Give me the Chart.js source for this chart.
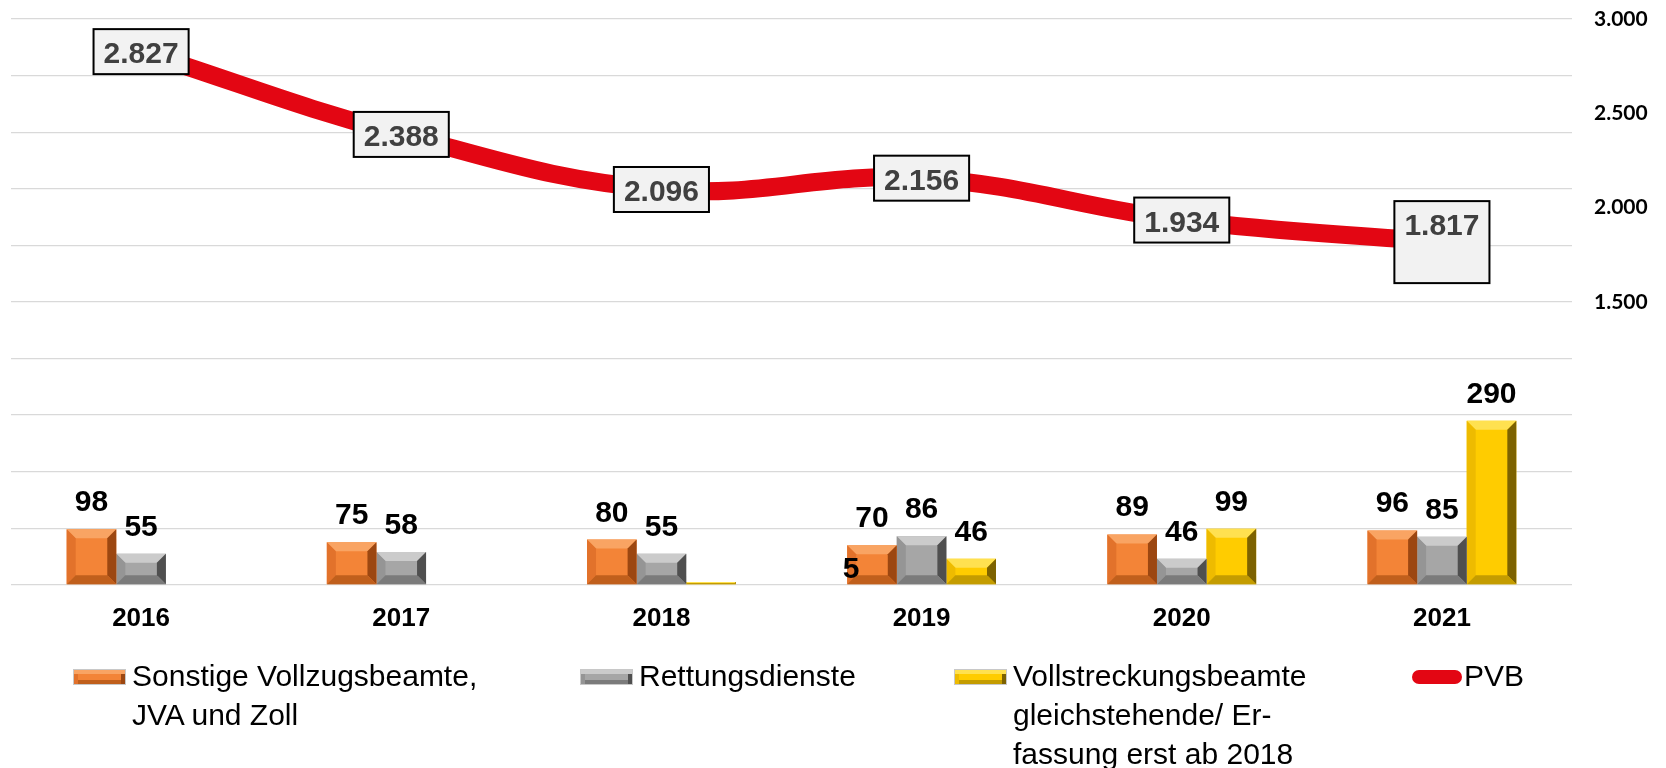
<!DOCTYPE html>
<html>
<head>
<meta charset="utf-8">
<script src="https://cdn.jsdelivr.net/npm/chart.js@4.4.1/dist/chart.umd.min.js"></script>
<style>
  html, body { margin: 0; padding: 0; background: #fff; }
  #wrap { position: relative; width: 1666px; height: 768px; overflow: hidden; }
  #legend { position: absolute; left: 0; top: 656px; width: 1666px; height: 112px;
    font: 30px "Liberation Sans", Arial, sans-serif; line-height: 39px; color: #000; }
  .item { position: absolute; top: 0; }
  .icon { position: absolute; top: 13px; width: 53px; height: 16px; box-sizing: border-box; }
  .txt { position: absolute; top: 0; white-space: nowrap; }
</style>
</head>
<body>
<div id="wrap">
  <canvas id="chart" width="1666" height="768"></canvas>
  <div id="legend"></div>
</div>
<script>
// Daten
const years = ['2016', '2017', '2018', '2019', '2020', '2021'];
const sonstige = [98, 75, 80, 70, 89, 96];
const rettung = [55, 58, 55, 86, 46, 85];
const vollstreckung = [null, null, 5, 46, 99, 290];
const pvb = [2827, 2388, 2096, 2156, 1934, 1817];

const legendSonstige = ['Sonstige Vollzugsbeamte,', 'JVA und Zoll'];
const legendRettung = ['Rettungsdienste'];
const legendVollstreckung = ['Vollstreckungsbeamte', 'gleichstehende/ Er-', 'fassung erst ab 2018'];
const legendPvb = ['PVB'];

// Farben (Fläche + Fasen)
const orange = { face: '#f38437', top: '#f9a463', left: '#e2722b', right: '#9c4711', bottom: '#c05f1c' };
const grau = { face: '#a6a6a6', top: '#cbcbcb', left: '#959595', right: '#4f4f4f', bottom: '#7b7b7b' };
const gold = { face: '#ffcc00', top: '#ffe150', left: '#eebb00', right: '#7d6200', bottom: '#c49c00' };
const rot = '#e30613';

function fmt(v) {
    return String(Math.round(v)).replace(/\B(?=(\d{3})+(?!\d))/g, '.');
}

function poly(ctx, pts, color) {
    ctx.beginPath();
    ctx.moveTo(pts[0][0], pts[0][1]);
    for (let i = 1; i < pts.length; i++) ctx.lineTo(pts[i][0], pts[i][1]);
    ctx.closePath();
    ctx.fillStyle = color;
    ctx.fill();
}

// 3D-Fasen auf die Balken zeichnen
const bevelPlugin = {
    id: 'bevel',
    afterDatasetDraw(chart, args) {
        const ds = chart.data.datasets[args.index];
        if (!ds.bevel) return;
        const ctx = chart.ctx;
        const c = ds.bevel;
        args.meta.data.forEach((bar, i) => {
            if (ds.data[i] == null) return;
            const x0 = bar.x - bar.width / 2, x1 = bar.x + bar.width / 2;
            const top = Math.min(bar.y, bar.base), bottom = Math.max(bar.y, bar.base);
            const b = Math.min(9, (x1 - x0) / 2, (bottom - top) / 2);
            if (b < 1) return;
            ctx.save();
            poly(ctx, [[x0, top], [x1, top], [x1 - b, top + b], [x0 + b, top + b]], c.top);
            poly(ctx, [[x0, top], [x0, bottom], [x0 + b, bottom - b], [x0 + b, top + b]], c.left);
            poly(ctx, [[x1, top], [x1, bottom], [x1 - b, bottom - b], [x1 - b, top + b]], c.right);
            poly(ctx, [[x0, bottom], [x1, bottom], [x1 - b, bottom - b], [x0 + b, bottom - b]], c.bottom);
            ctx.restore();
        });
    }
};

// Datenbeschriftungen
const labelPlugin = {
    id: 'labels',
    afterDatasetsDraw(chart, args, opts) {
        const ctx = chart.ctx;
        ctx.save();
        chart.data.datasets.forEach((ds, di) => {
            const meta = chart.getDatasetMeta(di);
            if (ds.type === 'line') {
                ctx.font = 'bold 30px "Liberation Sans", Arial, sans-serif';
                ctx.textAlign = 'center';
                ctx.textBaseline = 'alphabetic';
                meta.data.forEach((pt, i) => {
                    const txt = fmt(ds.data[i]);
                    const w = ctx.measureText(txt).width + 20;
                    const extra = (opts.boxExtra && opts.boxExtra[i]) || 0;
                    const h = 45 + extra;
                    const top = pt.y - h / 2;
                    ctx.fillStyle = '#f2f2f2';
                    ctx.fillRect(pt.x - w / 2, top, w, h);
                    ctx.lineWidth = 2;
                    ctx.strokeStyle = '#000';
                    ctx.strokeRect(pt.x - w / 2, top, w, h);
                    ctx.fillStyle = '#404040';
                    ctx.fillText(txt, pt.x, top + 34);
                });
            } else {
                ctx.font = 'bold 30px "Liberation Sans", Arial, sans-serif';
                ctx.textAlign = 'center';
                ctx.textBaseline = 'alphabetic';
                ctx.fillStyle = '#000';
                meta.data.forEach((bar, i) => {
                    const v = ds.data[i];
                    if (v == null) return;
                    const off = (opts.offsets && opts.offsets[di + '-' + i]) || [0, 0];
                    ctx.fillText(String(v), bar.x + off[0], bar.y - 18 + off[1]);
                });
            }
        });
        ctx.restore();
    }
};

const ctx = document.getElementById('chart').getContext('2d');
new Chart(ctx, {
    data: {
        labels: years,
        datasets: [
            { type: 'bar', label: legendSonstige.join(' '), data: sonstige, backgroundColor: orange.face, bevel: orange, yAxisID: 'y', order: 2 },
            { type: 'bar', label: legendRettung.join(' '), data: rettung, backgroundColor: grau.face, bevel: grau, yAxisID: 'y', order: 2 },
            { type: 'bar', label: legendVollstreckung.join(' '), data: vollstreckung, backgroundColor: gold.face, bevel: gold, yAxisID: 'y', order: 2 },
            { type: 'line', label: legendPvb.join(' '), data: pvb, borderColor: rot, backgroundColor: rot, borderWidth: 18,
              tension: 0.4, pointRadius: 0, yAxisID: 'y1', order: 1 }
        ]
    },
    options: {
        responsive: false,
        animation: false,
        layout: { padding: { left: 11, right: 0, top: 19, bottom: 124 } },
        datasets: { bar: { categoryPercentage: 0.572, barPercentage: 1 } },
        scales: {
            x: {
                grid: { display: false },
                border: { display: false },
                ticks: { color: '#000', padding: 10, font: { family: '"Liberation Sans", Arial, sans-serif', size: 26, weight: 'bold' } }
            },
            y: {
                position: 'left',
                min: 0, max: 1000,
                ticks: { display: false, stepSize: 100 },
                grid: { color: '#d9d9d9', lineWidth: 1.3, drawTicks: false },
                border: { display: false }
            },
            y1: {
                position: 'right',
                min: 0, max: 3000,
                grid: { display: false },
                border: { display: false },
                afterFit: s => { s.width = 94; s.paddingTop = 0; s.paddingBottom = 0; },
                ticks: {
                    stepSize: 500, padding: 14, color: '#000',
                    font: { family: 'Lato, "Liberation Sans", sans-serif', size: 21, weight: 'bold' },
                    callback: v => v >= 1500 ? fmt(v) : ''
                }
            }
        },
        plugins: {
            legend: { display: false },
            tooltip: { enabled: false },
            labels: { boxExtra: { 5: 37 }, offsets: { '2-2': [140, 14] } }
        }
    },
    plugins: [bevelPlugin, labelPlugin]
});

// Legende
const legendItems = [
    { lines: legendSonstige, kind: orange, left: 73 },
    { lines: legendRettung, kind: grau, left: 580 },
    { lines: legendVollstreckung, kind: gold, left: 954 },
    { lines: legendPvb, kind: null, left: 1412 }
];
const legendEl = document.getElementById('legend');
legendItems.forEach(it => {
    const item = document.createElement('div');
    item.className = 'item';
    item.style.left = it.left + 'px';
    const icon = document.createElement('div');
    icon.className = 'icon';
    if (it.kind) {
        const k = it.kind;
        icon.style.background = k.face;
        icon.style.boxShadow = `inset 0 4px 0 ${k.top}, inset 4px 0 0 ${k.left}, inset -4px 0 0 ${k.right}, inset 0 -4px 0 ${k.bottom}`;
        icon.style.border = '1px solid #c8c8c8';
    } else {
        icon.style.background = rot;
        icon.style.width = '50px';
        icon.style.height = '14px';
        icon.style.top = '14px';
        icon.style.borderRadius = '7px';
    }
    const txt = document.createElement('div');
    txt.className = 'txt';
    txt.style.left = (it.kind ? 59 : 52) + 'px';
    txt.innerHTML = it.lines.join('<br>');
    item.appendChild(icon);
    item.appendChild(txt);
    legendEl.appendChild(item);
});
</script>
</body>
</html>
